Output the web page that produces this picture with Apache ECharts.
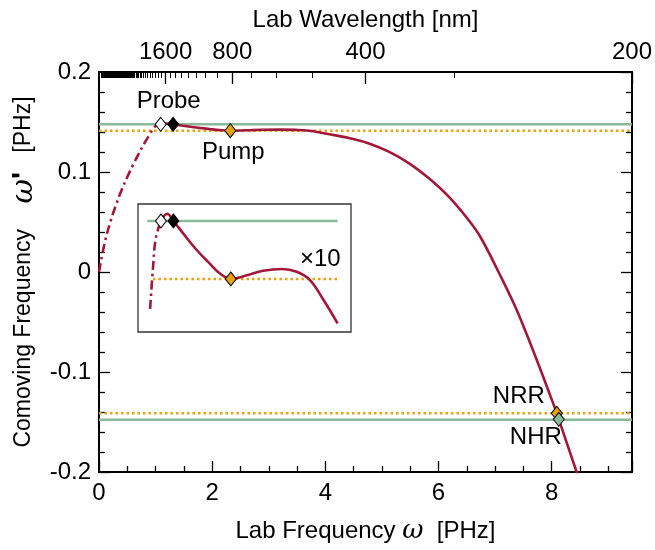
<!DOCTYPE html>
<html>
<head>
<meta charset="utf-8">
<script src="https://cdn.jsdelivr.net/npm/echarts@6/dist/echarts.min.js"></script>
<style>html,body{margin:0;padding:0;background:#fff}#c{width:655px;height:550px}</style>
</head>
<body>
<div id="c"></div>
<script>
// ---- data ----
const C_NM_PHZ = 2 * Math.PI * 299.792458;       // omega[PHz] = C / lambda[nm]
const wavelengthLabels = [1600, 800, 400, 200];   // labelled top ticks (nm)
const xTickLabels = [0, 2, 4, 6, 8];
const yTickLabels = [-0.2, -0.1, 0, 0.1, 0.2];

// dashed (evanescent) branch
const dashedOmega = [0, 0.1, 0.2, 0.3, 0.4, 0.5, 0.6, 0.7, 0.8, 0.9, 0.95, 1.0, 1.09];
const dashedValue = [0, 0.029, 0.050, 0.067, 0.082, 0.095, 0.107, 0.118, 0.1285, 0.138, 0.1425, 0.1458, 0.1477];
// solid branch
const solidOmega = [1.09, 1.2, 1.31, 1.485, 1.72, 1.95, 2.13, 2.32, 2.6, 2.89, 3.22, 3.48, 3.71, 3.95, 4.2, 4.45, 4.77, 5.12, 5.48, 5.83, 6.18, 6.53, 6.74, 7.06, 7.35, 7.57, 7.77, 7.95, 8.09, 8.125, 8.44, 8.5];
const solidValue = [0.1477, 0.1485, 0.1477, 0.1463, 0.1445, 0.1430, 0.1419, 0.1413, 0.1417, 0.1422, 0.1424, 0.1421, 0.1412, 0.1390, 0.1364, 0.1335, 0.1285, 0.1203, 0.1087, 0.0937, 0.0753, 0.052, 0.035, 0.0, -0.034, -0.064, -0.093, -0.120, -0.1413, -0.1473, -0.200, -0.210];

const greenLevel = 0.1477;   // solid green lines at +/-
const orangeLevel = 0.1413;  // dotted orange lines at +/-

const markerNames = ['Probe', 'ProbeB', 'Pump', 'NRR', 'NHR'];
const markerOmega = [1.09, 1.31, 2.32, 8.09, 8.125];
const markerValue = [0.1477, 0.1477, 0.1413, -0.1413, -0.1473];

const insetRange = [0.85, 4.2];
const magnification = 10;

// ---- build ----
const omegaMax = C_NM_PHZ / 200;
const zip = (a, b) => a.map((v, i) => [v, b[i]]);
const inRange = (p) => p[0] >= insetRange[0] - 1e-9 && p[0] <= insetRange[1] + 1e-9;

const majorTopTicks = wavelengthLabels.map(l => C_NM_PHZ / l);
const minorTopTicks = [];
for (let l = 300; l <= 40000; l += 100) minorTopTicks.push(C_NM_PHZ / l);

const RED = '#a3173a', GREEN = '#8ab89a', ORANGE = '#e9a20e';
const FONT = 'Liberation Sans, Arial, sans-serif';
const FS = 24;

const dashed = zip(dashedOmega, dashedValue);
const solid = zip(solidOmega, solidValue);

const markerColors = ['#ffffff', '#000000', ORANGE, ORANGE, GREEN];
const markerLabels = {
  Probe: {show: true, formatter: 'Probe', offset: [8, -23], position: 'inside'},
  Pump: {show: true, formatter: 'Pump', offset: [3, 22], position: 'inside'},
  NRR: {show: true, formatter: 'NRR', offset: [-38, -17], position: 'inside'},
  NHR: {show: true, formatter: 'NHR', offset: [-23, 18], position: 'inside'}
};
const markerData = markerNames.map((n, i) => ({
  value: [markerOmega[i], markerValue[i]],
  itemStyle: {color: markerColors[i], opacity: 1},
  label: markerLabels[n] ? Object.assign({color: '#000', fontSize: FS, fontFamily: FONT}, markerLabels[n]) : {show: false}
}));
const insetMarkerData = markerNames.map((n, i) => ({
  value: [markerOmega[i], markerValue[i]],
  itemStyle: {color: markerColors[i], opacity: 1}
})).filter(d => inRange(d.value));

const chart = echarts.init(document.getElementById('c'), null, {renderer: 'canvas'});

const axisLine = {show: true, onZero: false, lineStyle: {color: '#000', width: 2}};
const tickStyle = {color: '#000', width: 1.3};

const mainGrid = {left: 99, right: 21, top: 72, bottom: 78};
const insetGrid = {left: 138, top: 204, width: 213, height: 128, show: true, borderColor: '#333', borderWidth: 1.3, backgroundColor: '#fff', z: 5};

// inset x axis matches main x scale in pixels
const pxPerUnit = (655 - 99 - 21) / omegaMax;
const insetXMin = (138 - 99) / pxPerUnit;
const insetXMax = insetXMin + 213 / pxPerUnit;
// inset y axis: magnified, green line at 17px below inset top
const insetPxPerUnit = 1000 * magnification * 0.906;
const insetYMax = greenLevel + 17 / insetPxPerUnit;
const insetYMin = insetYMax - 128 / insetPxPerUnit;

const hLine = (y, x0, x1) => [[x0, y], [x1, y]];
const curveStyle = {showSymbol: false, smooth: 0.4, silent: true};

const option = {
  animation: false,
  backgroundColor: '#fff',
  textStyle: {fontFamily: FONT},
  grid: [mainGrid, insetGrid],
  xAxis: [
    {
      type: 'value', gridIndex: 0, min: 0, max: omegaMax, interval: 2, position: 'bottom',
      axisLine, axisTick: {inside: true, length: 11, lineStyle: tickStyle},
      minorTick: {show: true, splitNumber: 4, length: 6, lineStyle: tickStyle},
      splitLine: {show: false},
      axisLabel: {color: '#000', fontSize: FS, fontFamily: FONT, margin: 9, showMaxLabel: false,
        formatter: v => xTickLabels.includes(Math.round(v * 1000) / 1000) ? String(v) : ''},
      name: 'Lab Frequency {w|ω}  [PHz]', nameLocation: 'middle', nameGap: 46,
      nameTextStyle: {color: '#000', fontSize: FS, fontFamily: FONT,
        rich: {w: {fontSize: 26, fontFamily: 'DejaVu Serif', fontStyle: 'italic', color: '#000'}}}
    },
    {
      type: 'value', gridIndex: 0, min: 0, max: omegaMax, position: 'top',
      axisLine, splitLine: {show: false},
      axisTick: {inside: true, length: 12, lineStyle: tickStyle, customValues: majorTopTicks},
      axisLabel: {color: '#000', fontSize: FS, fontFamily: FONT, margin: 8, customValues: majorTopTicks,
        formatter: v => String(Math.round(C_NM_PHZ / v / 100) * 100)},
      name: 'Lab Wavelength [nm]', nameLocation: 'middle', nameGap: 40,
      nameTextStyle: {color: '#000', fontSize: FS, fontFamily: FONT}
    },
    {
      type: 'value', gridIndex: 0, min: 0, max: omegaMax, position: 'top',
      axisLine: {show: false, onZero: false}, splitLine: {show: false},
      axisTick: {inside: true, length: 6, lineStyle: {color: '#000', width: 1}, customValues: minorTopTicks},
      axisLabel: {show: false}
    },
    {
      type: 'value', gridIndex: 1, min: insetXMin, max: insetXMax, show: false
    }
  ],
  yAxis: [
    {
      type: 'value', gridIndex: 0, min: -0.2, max: 0.2, interval: 0.1, position: 'left',
      axisLine, axisTick: {inside: true, length: 11, lineStyle: tickStyle},
      minorTick: {show: true, splitNumber: 5, length: 6, lineStyle: tickStyle},
      splitLine: {show: false},
      axisLabel: {color: '#000', fontSize: FS, fontFamily: FONT, margin: 8,
        formatter: v => { const r = Math.round(v * 10) / 10; return yTickLabels.includes(r) ? String(r) : ''; }},
      name: 'Comoving Frequency    {w|ω}{p|\'}   [PHz]', nameLocation: 'middle', nameGap: 36, nameRotate: 90,
      nameTextStyle: {color: '#000', fontSize: 23, fontFamily: FONT,
        rich: {w: {fontSize: 30, fontFamily: 'DejaVu Serif', fontStyle: 'italic', color: '#000'},
               p: {fontSize: 30, fontWeight: 'bold', fontFamily: FONT, color: '#000'}}}
    },
    {
      type: 'value', gridIndex: 0, min: -0.2, max: 0.2, interval: 0.1, position: 'right',
      axisLine, axisTick: {inside: true, length: 11, lineStyle: tickStyle},
      minorTick: {show: true, splitNumber: 5, length: 6, lineStyle: tickStyle},
      splitLine: {show: false}, axisLabel: {show: false}
    },
    {
      type: 'value', gridIndex: 1, min: insetYMin, max: insetYMax, show: false
    }
  ],
  series: [
    // main horizontal reference lines
    {type: 'line', xAxisIndex: 0, yAxisIndex: 0, data: hLine(greenLevel, 0, omegaMax), showSymbol: false, lineStyle: {color: GREEN, width: 2.5}, z: 1, silent: true},
    {type: 'line', xAxisIndex: 0, yAxisIndex: 0, data: hLine(-greenLevel, 0, omegaMax), showSymbol: false, lineStyle: {color: GREEN, width: 2.5}, z: 1, silent: true},
    {type: 'line', xAxisIndex: 0, yAxisIndex: 0, data: hLine(orangeLevel, 0, omegaMax), showSymbol: false, lineStyle: {color: ORANGE, width: 2.5, type: [2.5, 3]}, z: 1, silent: true},
    {type: 'line', xAxisIndex: 0, yAxisIndex: 0, data: hLine(-orangeLevel, 0, omegaMax), showSymbol: false, lineStyle: {color: ORANGE, width: 2.5, type: [2.5, 3]}, z: 1, silent: true},
    // main curve
    Object.assign({type: 'line', xAxisIndex: 0, yAxisIndex: 0, data: dashed, lineStyle: {color: RED, width: 2.6, type: [9, 4, 2.5, 4]}, z: 3}, curveStyle),
    Object.assign({type: 'line', xAxisIndex: 0, yAxisIndex: 0, data: solid, lineStyle: {color: RED, width: 2.6}, z: 3}, curveStyle),
    // markers
    {type: 'scatter', xAxisIndex: 0, yAxisIndex: 0, symbol: 'diamond', symbolSize: [11, 14], data: markerData,
      itemStyle: {borderColor: '#000', borderWidth: 1, opacity: 1}, z: 4, silent: true},
    // inset
    {type: 'line', xAxisIndex: 3, yAxisIndex: 2, data: hLine(greenLevel, insetRange[0], insetRange[1]), showSymbol: false, lineStyle: {color: GREEN, width: 2.5}, z: 6, silent: true},
    {type: 'line', xAxisIndex: 3, yAxisIndex: 2, data: hLine(orangeLevel, insetRange[0] + 0.1, insetRange[1]), showSymbol: false, lineStyle: {color: ORANGE, width: 2.5, type: [2.5, 3]}, z: 6, silent: true},
    Object.assign({type: 'line', xAxisIndex: 3, yAxisIndex: 2, data: dashed.filter(inRange), lineStyle: {color: RED, width: 2.6, type: [9, 4, 2.5, 4]}, z: 7, clip: true}, curveStyle),
    Object.assign({type: 'line', xAxisIndex: 3, yAxisIndex: 2, data: solid.filter(inRange), lineStyle: {color: RED, width: 2.6}, z: 7, clip: true}, curveStyle),
    {type: 'scatter', xAxisIndex: 3, yAxisIndex: 2, symbol: 'diamond', symbolSize: [11, 14], data: insetMarkerData,
      itemStyle: {borderColor: '#000', borderWidth: 1, opacity: 1}, z: 8, silent: true}
  ],
  graphic: [
    {type: 'text', left: 300, top: 247, z: 100,
     style: {text: '×10', fontSize: FS, fontFamily: FONT, fill: '#000'}}
  ]
};
chart.setOption(option);
</script>
</body>
</html>
